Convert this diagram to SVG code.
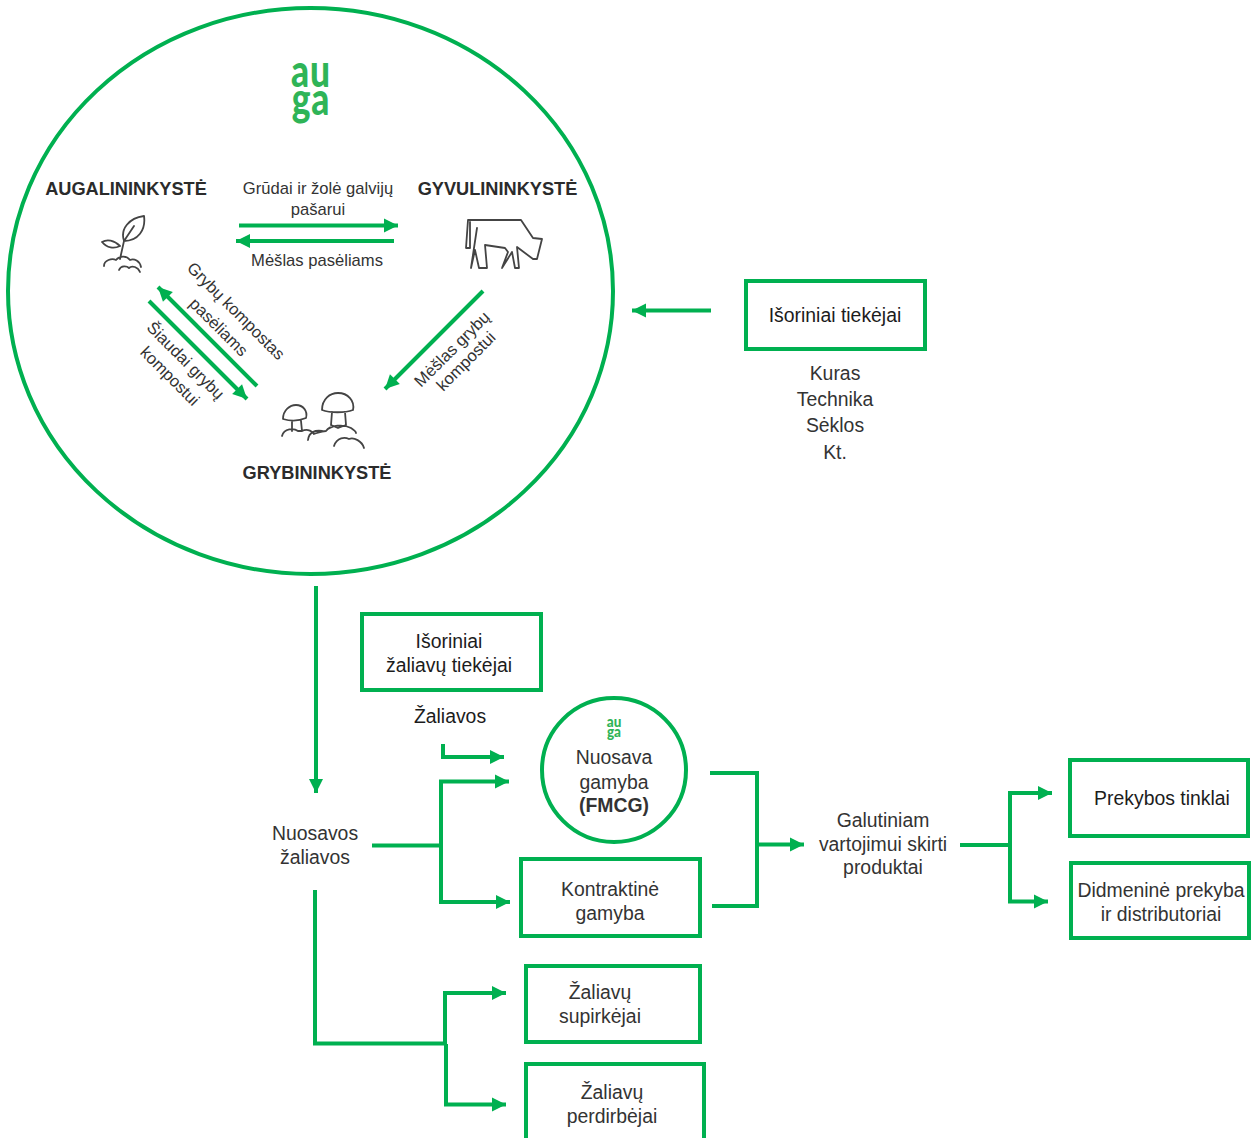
<svg xmlns="http://www.w3.org/2000/svg" width="1252" height="1138" viewBox="0 0 1252 1138">
<style>
text{font-family:"Liberation Sans",Arial,sans-serif;fill:#333;text-anchor:middle}
.t{font-size:19.4px}
.s{font-size:16.6px}
.b{font-size:18.2px;font-weight:700;fill:#2b2b2b}
.k{fill:#1c1c1c}
.box{fill:#fff;stroke:#00b050;stroke-width:4}
.c{fill:none;stroke:#00b050;stroke-width:4}
.a{fill:none;stroke:#00b050;stroke-width:4;marker-end:url(#ah)}
.ic{fill:none;stroke:#444;stroke-width:1.8;stroke-linecap:round;stroke-linejoin:round}
text.logo{font-family:"Lato","Liberation Sans",sans-serif;font-weight:900;fill:#2fb457}
</style>
<defs>
<marker id="ah" markerUnits="userSpaceOnUse" markerWidth="16" markerHeight="16" refX="14" refY="7" orient="auto" overflow="visible"><path d="M0 0L14 7L0 14z" fill="#00b050"/></marker>
</defs>
<g id="main-circle"><ellipse cx="310.500" cy="291" rx="302.500" ry="283" class="c"/></g>
<g id="logo-main"><text class="logo" transform="translate(311,87) scale(.93,1.18)" font-size="38" letter-spacing="1"><tspan x="0" y="0">au</tspan><tspan x="0" y="23.300">ga</tspan></text></g>
<g id="augalininkyste"><text class="b" x="126" y="195">AUGALININKYSTĖ</text>
<path class="ic" d="M124 241C120 229 129 218 144 216C146 230 138 241 124 241ZM124 241L134 226M124 241L120 259M120 246C114 240 107 239 102 242C107 248 114 249 120 246M104 266C104 260 112 258 116 260C120 255 127 256 130 260C134 258 140 261 141 267M119 270C121 265 127 266 129 268C132 265 138 267 140 272"/></g>
<g id="gyvulininkyste"><text class="b" x="497.500" y="195">GYVULININKYSTĖ</text>
<path class="ic" d="M468 220L521 220L533 238L542 239L537 259L533 259L517 247L519 268L515 268L512 252L502 268L508 252L505 248L485 245L487 268L479 268L475 250L471 268L477 228M468 220L466 248L470 248L470 222"/></g>
<g id="grybininkyste"><text class="b" x="317" y="478.500">GRYBININKYSTĖ</text>
<path class="ic" d="M322 410C322 399 330 393 338 393C348 393 355 401 353 410C345 413 330 413 322 410ZM332 412L331 425M345 412L346 425M331 425L338 428L346 425M283 419C283 410 290 405 296 405C303 405 308 411 306 418C299 421 290 421 283 419ZM292 421L292 431M301 421L302 431M282 436C284 428 294 428 298 431L302 431C308 428 313 432 314 434C320 432 322 431 326 431C330 425 344 424 351 428C354 430 356 432 356 433M308 440C309 432 315 430 322 431M334 446C337 437 345 437 349 439C354 437 362 441 364 448"/></g>
<g id="labels-inner">
<text class="s" x="318" y="194">Grūdai ir žolė galvijų</text><text class="s" x="318" y="215">pašarui</text>
<text class="s" x="317" y="266">Mėšlas pasėliams</text>
<g transform="translate(228.500,318.500) rotate(45)"><text class="s" x="0" y="-5">Grybų kompostas</text></g>
<g transform="translate(236,324) rotate(45)"><text class="s" x="-10" y="20">pasėliams</text></g>
<g transform="translate(178,368) rotate(45)"><text class="s" x="0" y="-5">Šiaudai grybų</text><text class="s" x="0" y="17">kompostui</text></g>
<g transform="translate(456,353) rotate(-45)"><text class="s" x="0" y="0">Mėšlas grybų</text></g>
<g transform="translate(453,351) rotate(-45)"><text class="s" x="2" y="22">kompostui</text></g>
</g>
<g id="tiekejai"><rect class="box" x="746" y="281" width="179" height="68"/><text class="t k" x="835" y="321.500">Išoriniai tiekėjai</text></g>
<g id="tiekejai-list"><text class="t" x="835" y="380">Kuras</text><text class="t" x="835" y="406">Technika</text><text class="t" x="835" y="432">Sėklos</text><text class="t" x="835" y="458.500">Kt.</text></g>
<g id="zaliavu-tiekejai"><rect class="box" x="362" y="614" width="179" height="76"/><text class="t k" x="449" y="647.500">Išoriniai</text><text class="t k" x="449" y="671.500">žaliavų tiekėjai</text></g>
<g id="zaliavos"><text class="t k" x="450" y="722.500">Žaliavos</text></g>
<g id="nuosava"><circle cx="614" cy="770" r="72" fill="#fff" stroke="#00b050" stroke-width="4"/>
<text class="logo" transform="translate(614,726.500) scale(1,1.18)" font-size="13.500"><tspan x="0" y="0">au</tspan><tspan x="0" y="9.300">ga</tspan></text>
<text class="t" x="614" y="764">Nuosava</text><text class="t" x="614" y="788.500">gamyba</text><text class="t" x="614" y="812" font-weight="700">(FMCG)</text></g>
<g id="kontraktine"><rect class="box" x="521" y="859" width="179" height="77"/><text class="t" x="610" y="895.500">Kontraktinė</text><text class="t" x="610" y="919.500">gamyba</text></g>
<g id="nuosavos"><text class="t" x="315" y="840">Nuosavos</text><text class="t" x="315" y="864">žaliavos</text></g>
<g id="galutiniam"><text class="t" x="883" y="827">Galutiniam</text><text class="t" x="883" y="850.500">vartojimui skirti</text><text class="t" x="883" y="874">produktai</text></g>
<g id="prekybos"><rect class="box" x="1070" y="760" width="178" height="76"/><text class="t k" x="1162" y="804.500">Prekybos tinklai</text></g>
<g id="didmenine"><rect class="box" x="1071" y="863" width="178" height="75"/><text class="t" x="1161" y="896.500">Didmeninė prekyba</text><text class="t" x="1161" y="920.500">ir distributoriai</text></g>
<g id="supirkejai"><rect class="box" x="526" y="966" width="174" height="76"/><text class="t" x="600" y="998.500">Žaliavų</text><text class="t" x="600" y="1022.500">supirkėjai</text></g>
<g id="perdirbejai"><rect class="box" x="526" y="1064" width="178" height="76"/><text class="t" x="612" y="1098.500">Žaliavų</text><text class="t" x="612" y="1122.500">perdirbėjai</text></g>
<g id="connectors">
<path class="a" d="M239 225.500L398 225.500"/>
<path class="a" d="M394 241L236 241"/>
<path class="a" d="M257 386L158 287"/>
<path class="a" d="M149 301L247 399"/>
<path class="a" d="M483 291L385 389"/>
<path class="a" d="M711 310.500L632 310.500"/>
<path class="a" d="M316 586L316 793"/>
<path class="a" d="M443 744L443 757L504 757"/>
<path class="c" d="M372 845.500L441 845.500"/>
<path class="a" d="M441 845L441 781.500L509 781.500"/>
<path class="a" d="M441 845L441 902L510 902"/>
<path class="c" d="M710 773L757 773L757 906L712 906"/>
<path class="a" d="M757 844.500L804 844.500"/>
<path class="c" d="M960 845L1010 845"/>
<path class="a" d="M1010 845L1010 793L1052 793"/>
<path class="a" d="M1010 845L1010 901.500L1048 901.500"/>
<path class="c" d="M315 890L315 1043.500L446 1043.500"/>
<path class="a" d="M445 1044L445 993L506 993"/>
<path class="a" d="M446 1044L446 1104.500L506 1104.500"/>
</g>
</svg>
